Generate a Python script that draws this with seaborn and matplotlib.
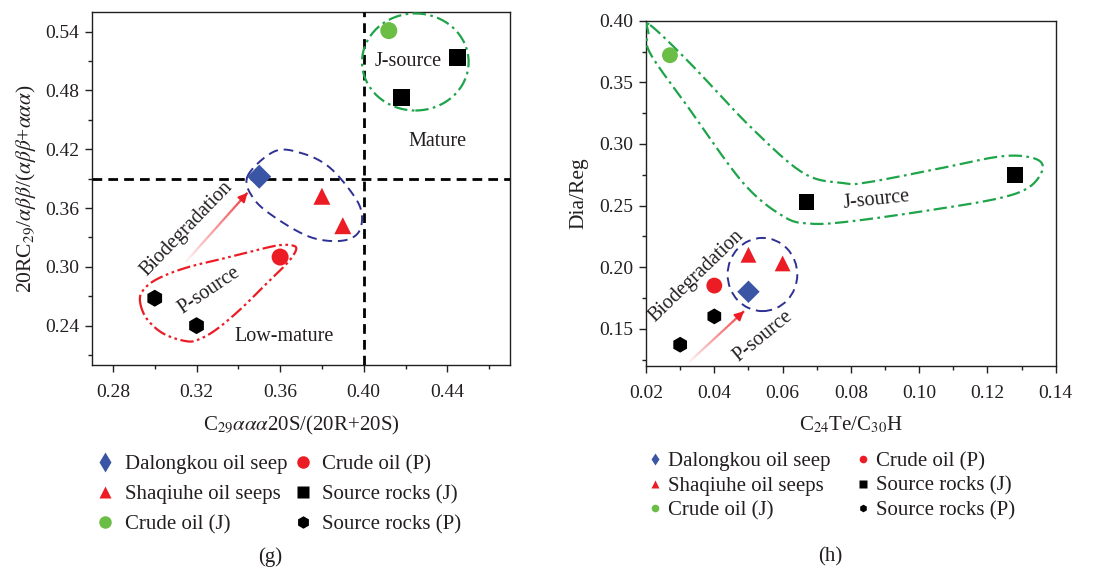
import numpy as np
import pandas as pd
import matplotlib
matplotlib.use("Agg")
import matplotlib.pyplot as plt
import seaborn as sns
from matplotlib.lines import Line2D
from matplotlib.patches import Ellipse
from matplotlib.collections import LineCollection
from matplotlib.ticker import AutoMinorLocator, FormatStrFormatter

# ---- data: panel (g) ----
g_x = [0.35, 0.38, 0.39, 0.412, 0.36, 0.445, 0.418, 0.30, 0.32]
g_y = [0.392, 0.372, 0.342, 0.541, 0.310, 0.514, 0.473, 0.268, 0.240]
g_group = ['Dalongkou oil seep', 'Shaqiuhe oil seeps', 'Shaqiuhe oil seeps',
           'Crude oil (J)', 'Crude oil (P)', 'Source rocks (J)', 'Source rocks (J)',
           'Source rocks (P)', 'Source rocks (P)']

# ---- data: panel (h) ----
h_x = [0.05, 0.05, 0.06, 0.027, 0.04, 0.067, 0.128, 0.04, 0.03]
h_y = [0.18, 0.21, 0.203, 0.372, 0.185, 0.253, 0.275, 0.16, 0.137]
h_group = g_group

legend_order = ['Dalongkou oil seep', 'Shaqiuhe oil seeps', 'Crude oil (J)',
                'Crude oil (P)', 'Source rocks (J)', 'Source rocks (P)']
colors = {'Dalongkou oil seep': '#3a55a4', 'Shaqiuhe oil seeps': '#ec1c24',
          'Crude oil (J)': '#6abd45', 'Crude oil (P)': '#ec1c24',
          'Source rocks (J)': '#000000', 'Source rocks (P)': '#000000'}
markers = {'Dalongkou oil seep': 'D', 'Shaqiuhe oil seeps': '^',
           'Crude oil (J)': 'o', 'Crude oil (P)': 'o',
           'Source rocks (J)': 's', 'Source rocks (P)': 'h'}

# outline sketches drawn around the groups (data coords)
g_psource = [(0.2930, 0.2639), (0.2962, 0.2470), (0.3042, 0.2318), (0.3155, 0.2240),
             (0.3219, 0.2267), (0.3300, 0.2369), (0.3412, 0.2571), (0.3541, 0.2842),
             (0.3637, 0.3045), (0.3677, 0.3179), (0.3653, 0.3220), (0.3573, 0.3213),
             (0.3380, 0.3111), (0.3155, 0.2994), (0.3011, 0.2875), (0.2943, 0.2757)]
g_bio = [(0.3444, 0.3924), (0.3573, 0.4178), (0.3701, 0.4161), (0.3830, 0.4026),
         (0.3943, 0.3756), (0.3990, 0.3553), (0.3975, 0.3351), (0.3894, 0.3266),
         (0.3749, 0.3300), (0.3589, 0.3485), (0.3476, 0.3688)]
h_jsource = [(0.0212, 0.3965), (0.0329, 0.3655), (0.0505, 0.3141), (0.0661, 0.2763),
             (0.0778, 0.2682), (0.0846, 0.2687), (0.1041, 0.2790), (0.1237, 0.2898),
             (0.1334, 0.2885), (0.1362, 0.2804), (0.1325, 0.2655), (0.1237, 0.2561),
             (0.1041, 0.2466), (0.0798, 0.2371), (0.0680, 0.2353), (0.0602, 0.2412),
             (0.0485, 0.2682), (0.0329, 0.3276), (0.0212, 0.3736), (0.0207, 0.3898)]

sns.set_style('ticks')
plt.rcParams['font.family'] = ['Liberation Serif', 'DejaVu Serif']
plt.rcParams['mathtext.fontset'] = 'stix'
ink = '#231f20'


def closed_curve(points, n=24):
    # periodic Catmull-Rom spline through the outline points
    p = np.asarray(points)
    N = len(p)
    out = []
    for i in range(N):
        p0, p1, p2, p3 = p[i - 1], p[i], p[(i + 1) % N], p[(i + 2) % N]
        for t in np.linspace(0, 1, n, endpoint=False):
            out.append(0.5 * (2 * p1 + (-p0 + p2) * t
                              + (2 * p0 - 5 * p1 + 4 * p2 - p3) * t ** 2
                              + (-p0 + 3 * p1 - 3 * p2 + p3) * t ** 3))
    out.append(out[0])
    return np.array(out)


def gradient_arrow(ax, start, end):
    xs = np.linspace(start[0], end[0], 40)
    ys = np.linspace(start[1], end[1], 40)
    segs = np.stack([np.column_stack([xs[:-1], ys[:-1]]),
                     np.column_stack([xs[1:], ys[1:]])], axis=1)
    cols = [(0.93, 0.11, 0.14, a) for a in np.linspace(0.05, 0.9, len(segs))]
    ax.add_collection(LineCollection(segs, colors=cols, linewidths=1.6))
    ax.annotate('', xy=end, xytext=(xs[-4], ys[-4]),
                arrowprops=dict(arrowstyle='-|>', color='#ec1c24', lw=1.2,
                                mutation_scale=14, shrinkA=0, shrinkB=0))


def style_axes(ax):
    for s in ax.spines.values():
        s.set_visible(True)
        s.set_linewidth(1.0)
        s.set_color(ink)
    ax.tick_params(which='major', direction='out', length=5, width=1.0,
                   labelsize=14, colors=ink, pad=4)
    ax.tick_params(axis='x', which='major', pad=9)
    ax.tick_params(which='minor', direction='out', length=3, width=1.0, colors=ink)
    ax.xaxis.set_minor_locator(AutoMinorLocator(2))
    ax.yaxis.set_minor_locator(AutoMinorLocator(2))
    ax.xaxis.set_major_formatter(FormatStrFormatter('%.2f'))
    ax.yaxis.set_major_formatter(FormatStrFormatter('%.2f'))


def make_legend(fig, anchor, msize, spacing, hlen, tpad, cspace):
    handles = [Line2D([], [], linestyle='none', marker=('d' if k == 'Dalongkou oil seep' else markers[k]),
                      markersize=msize * (1.12 if k == 'Dalongkou oil seep' else 1.0),
                      markerfacecolor=colors[k], markeredgecolor='none')
               for k in legend_order]
    fig.legend(handles, legend_order, ncol=2, loc='upper left', bbox_to_anchor=anchor,
               frameon=False, fontsize=15, labelspacing=spacing, handlelength=hlen,
               handletextpad=tpad, columnspacing=cspace, borderpad=0, borderaxespad=0,
               labelcolor=ink)


fig = plt.figure(figsize=(10.97, 5.71), dpi=100)
ax1 = fig.add_axes([0.0839, 0.361, 0.381, 0.618])
ax2 = fig.add_axes([0.5889, 0.3596, 0.3735, 0.6041])

# ---- panel (g) ----
df_g = pd.DataFrame({'x': g_x, 'y': g_y, 'group': g_group})
sns.scatterplot(data=df_g, x='x', y='y', hue='group', style='group', palette=colors,
                markers=markers, s=150, edgecolor='none', legend=False, ax=ax1, zorder=5)
ax1.axhline(0.39, color='black', lw=2, ls=(0, (3.5, 2.2)), zorder=3)
ax1.axvline(0.40, color='black', lw=2, ls=(0, (3.5, 2.2)), zorder=3)
ax1.add_patch(Ellipse((0.4247, 0.509), 0.051, 0.099, fill=False, ec='#1ea449', lw=1.6,
                      ls=(0, (6, 2, 1.2, 2)), clip_on=False, zorder=4))
c = closed_curve(g_bio)
ax1.plot(c[:, 0], c[:, 1], color='#2e3192', lw=1.4, ls=(0, (5, 3)), zorder=4)
c = closed_curve(g_psource)
ax1.plot(c[:, 0], c[:, 1], color='#ec1c24', lw=1.6, ls=(0, (6, 1.6, 1.2, 1.6, 1.2, 1.6)), zorder=4)
gradient_arrow(ax1, (0.3147, 0.3047), (0.3444, 0.3756))
ax1.text(0.4215, 0.509, 'J-source', fontsize=14.5, ha='center', va='center', color=ink)
ax1.text(0.4352, 0.428, 'Mature', fontsize=14.5, ha='center', va='center', color=ink)
ax1.text(0.362, 0.2286, 'Low-mature', fontsize=14.5, ha='center', va='center', color=ink)
ax1.text(0.3259, 0.2759, 'P-source', fontsize=14.5, ha='center', va='center', rotation=34,
         rotation_mode='anchor', color=ink)
ax1.text(0.3155, 0.3384, 'Biodegradation', fontsize=14.5, ha='center', va='center', rotation=46,
         rotation_mode='anchor', color=ink)
ax1.set_xlim(0.27, 0.47)
ax1.set_ylim(0.20, 0.56)
ax1.set_xticks([0.28, 0.32, 0.36, 0.40, 0.44])
ax1.set_yticks([0.24, 0.30, 0.36, 0.42, 0.48, 0.54])
style_axes(ax1)
ax1.set_xlabel(r'C$_{29}$$\alpha\alpha\alpha$20S/(20R+20S)', fontsize=15, color=ink, labelpad=9)
ax1.set_ylabel(r'20RC$_{29}$/$\alpha\beta\beta$/($\alpha\beta\beta$+$\alpha\alpha\alpha$)',
               fontsize=15.5, color=ink, labelpad=5)

# ---- panel (h) ----
df_h = pd.DataFrame({'x': h_x, 'y': h_y, 'group': h_group})
sns.scatterplot(data=df_h, x='x', y='y', hue='group', style='group', palette=colors,
                markers=markers, s=130, edgecolor='none', legend=False, ax=ax2, zorder=5)
c = closed_curve(h_jsource)
ax2.plot(c[:, 0], c[:, 1], color='#1ea449', lw=1.6, ls=(0, (6, 2, 1.2, 2)), zorder=4)
ax2.add_patch(Ellipse((0.0541, 0.194), 0.0204, 0.0594, fill=False, ec='#2e3192', lw=1.4,
                      ls=(0, (5, 3)), zorder=4))
gradient_arrow(ax2, (0.0324, 0.1224), (0.0487, 0.1642))
ax2.text(0.0876, 0.2547, 'J-source', fontsize=14.5, ha='center', va='center', rotation=6,
         rotation_mode='anchor', color=ink)
ax2.text(0.0348, 0.1925, 'Biodegradation', fontsize=14.5, ha='center', va='center', rotation=44,
         rotation_mode='anchor', color=ink)
ax2.text(0.0544, 0.1439, 'P-source', fontsize=14.5, ha='center', va='center', rotation=39,
         rotation_mode='anchor', color=ink)
ax2.set_xlim(0.02, 0.14)
ax2.set_ylim(0.12, 0.40)
ax2.set_xticks([0.02, 0.04, 0.06, 0.08, 0.10, 0.12, 0.14])
ax2.set_yticks([0.15, 0.20, 0.25, 0.30, 0.35, 0.40])
style_axes(ax2)
ax2.set_xlabel(r'C$_{24}$Te/C$_{30}$H', fontsize=15, color=ink, labelpad=9)
ax2.set_ylabel('Dia/Reg', fontsize=15.5, color=ink, labelpad=8)

make_legend(fig, (0.0875, 0.204), 9, 0.5, 0.9, 0.5, 0.27)
make_legend(fig, (0.5919, 0.209), 5.5, 0.24, 0.5, 0.4, 1.29)

fig.text(0.246, 0.0245, '(g)', fontsize=15, ha='center', va='center', color=ink)
fig.text(0.757, 0.0245, '(h)', fontsize=15, ha='center', va='center', color=ink)

fig.savefig('out.png', dpi=100)
